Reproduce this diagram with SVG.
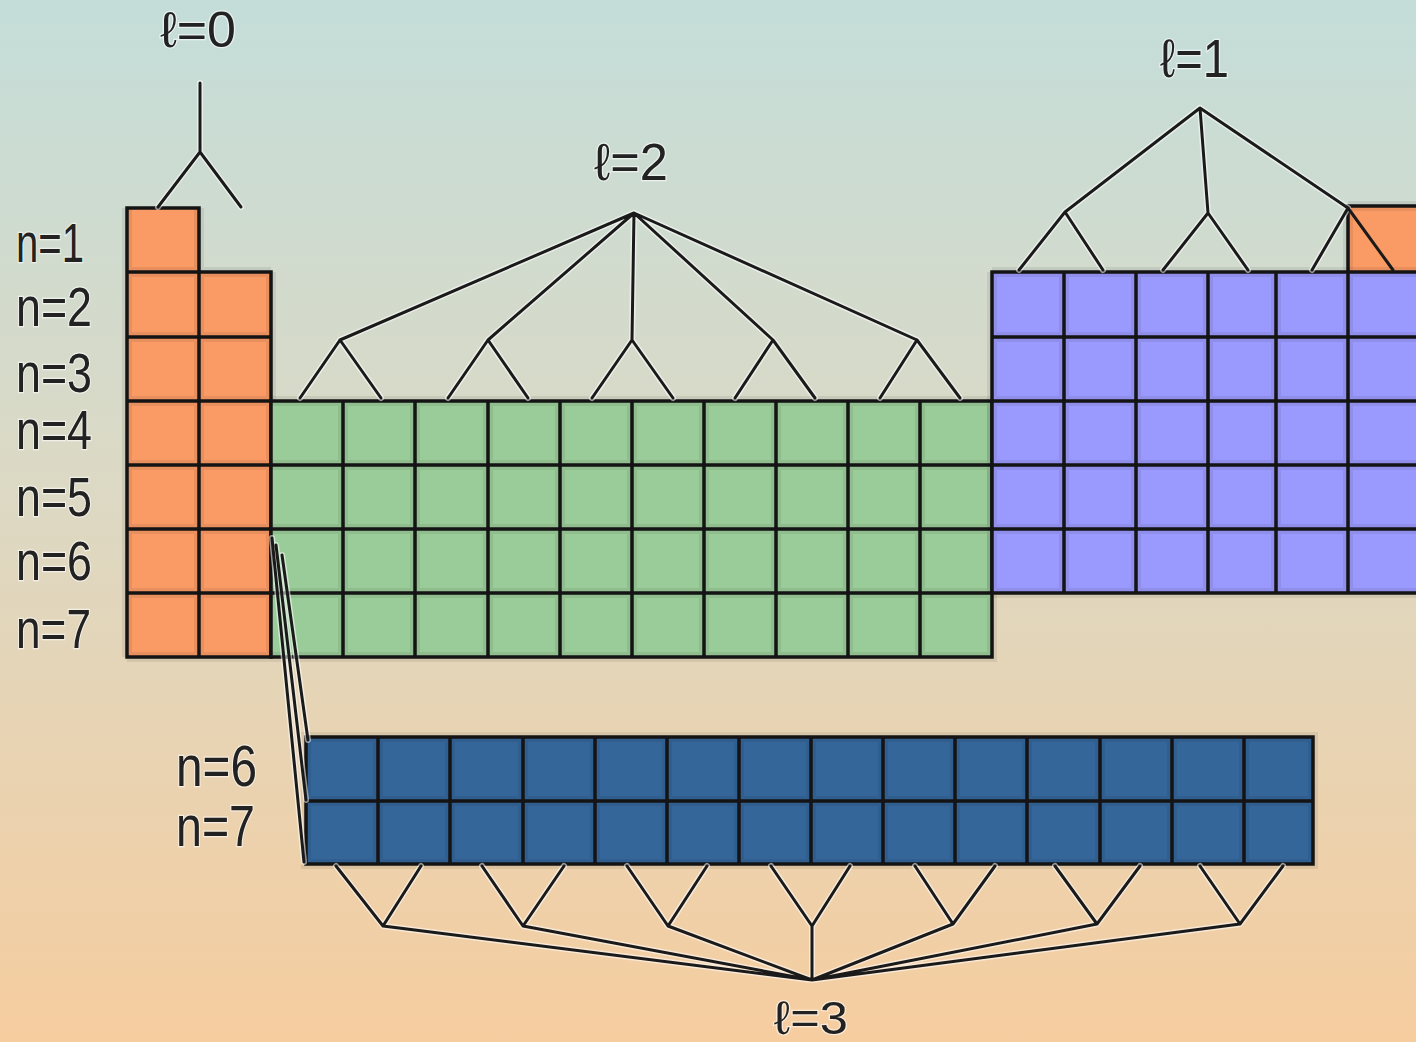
<svg xmlns="http://www.w3.org/2000/svg" width="1416" height="1042" viewBox="0 0 1416 1042">
<defs>
<linearGradient id="bg" x1="0" y1="0" x2="0" y2="1">
<stop offset="0" stop-color="#c4ddd9"/>
<stop offset="0.45" stop-color="#dbd9c5"/>
<stop offset="1" stop-color="#f6cd9f"/>
</linearGradient>
<style>
.band{fill:none;stroke:#000;stroke-opacity:0.07;stroke-width:10}
.grid{fill:none;stroke:#141414;stroke-width:3.5;stroke-linejoin:miter}
.halo{fill:none;stroke:#fff;stroke-opacity:0.55;stroke-width:6;stroke-linecap:round;stroke-linejoin:round}
.ln{fill:none;stroke:#1a1a1a;stroke-width:3;stroke-linecap:round;stroke-linejoin:round}
.s{fill:#fa9a65}
.p{fill:#9a99fd}
.d{fill:#9acc99}
.f{fill:#346699}
.lbl{font-family:"Liberation Sans","DejaVu Sans",sans-serif;fill:#222;stroke:#fff;stroke-opacity:0.6;stroke-width:2.5;paint-order:stroke}
</style>
</defs>
<rect x="0" y="0" width="1416" height="1042" fill="url(#bg)"/>

<g id="s-block">
<path class="s" d="M127,208 H199 V272 H271 V657 H127 Z"/>
<path class="band" d="M127,272 H271 M127,337 H271 M127,401 H271 M127,465 H271 M127,529 H271 M127,593 H271 M199,208 V657 M127,208 V657 M271,272 V657 M127,657 H271"/>
<path class="grid" d="M127,272 H199 M127,337 H271 M127,401 H271 M127,465 H271 M127,529 H271 M127,593 H271 M199,272 V657"/>
<path class="grid" d="M127,208 H199 V272 H271 V657 H127 Z"/>
</g>

<g id="s-block-he">
<rect class="s" x="1348" y="206" width="80" height="66"/>
<path class="band" d="M1348,206 V272 M1348,206 H1420"/>
<path class="grid" d="M1420,206 H1348 V272"/>
</g>

<g id="d-block">
<rect class="d" x="271" y="401" width="721" height="256"/>
<path class="band" d="M343,401V657 M415,401V657 M488,401V657 M560,401V657 M632,401V657 M704,401V657 M776,401V657 M848,401V657 M920,401V657 M271,465H992 M271,529H992 M271,593H992 M271,401H992V657H271"/>
<path class="grid" d="M343,401V657 M415,401V657 M488,401V657 M560,401V657 M632,401V657 M704,401V657 M776,401V657 M848,401V657 M920,401V657 M271,465H992 M271,529H992 M271,593H992"/>
<rect class="grid" x="271" y="401" width="721" height="256"/>
</g>

<g id="p-block">
<rect class="p" x="992" y="272" width="440" height="321"/>
<path class="band" d="M1064,272V593 M1136,272V593 M1208,272V593 M1276,272V593 M1348,272V593 M992,337H1420 M992,401H1420 M992,465H1420 M992,529H1420 M992,272V593 M992,272H1420 M992,593H1420"/>
<path class="grid" d="M1064,272V593 M1136,272V593 M1208,272V593 M1276,272V593 M1348,272V593 M992,337H1420 M992,401H1420 M992,465H1420 M992,529H1420"/>
<path class="grid" d="M1420,272 H992 V593 H1420"/>
</g>

<g id="f-block">
<rect class="f" x="306" y="737" width="1007" height="127"/>
<path class="band" d="M378,737V864 M450,737V864 M523,737V864 M595,737V864 M667,737V864 M739,737V864 M811,737V864 M883,737V864 M955,737V864 M1027,737V864 M1100,737V864 M1172,737V864 M1244,737V864 M306,801H1313 M306,737H1313V864H306Z"/>
<path class="grid" d="M378,737V864 M450,737V864 M523,737V864 M595,737V864 M667,737V864 M739,737V864 M811,737V864 M883,737V864 M955,737V864 M1027,737V864 M1100,737V864 M1172,737V864 M1244,737V864 M306,801H1313"/>
<rect class="grid" x="306" y="737" width="1007" height="127"/>
</g>

<g id="connectors">
<g id="tree-l0">
<path class="halo" d="M200,83 V152 M200,152 L158,207 M200,152 L241,207"/>
<path class="ln" d="M200,83 V152 M200,152 L158,207 M200,152 L241,207"/>
</g>
<g id="tree-l2">
<path class="halo" d="M634,213 L340,340 M634,213 L488,340 M634,213 L632,340 M634,213 L773,340 M634,213 L917,340 M340,340 L300,398 M340,340 L381,398 M488,340 L448,398 M488,340 L528,398 M632,340 L592,398 M632,340 L673,398 M773,340 L735,398 M773,340 L815,398 M917,340 L880,398 M917,340 L960,398"/>
<path class="ln" d="M634,213 L340,340 M634,213 L488,340 M634,213 L632,340 M634,213 L773,340 M634,213 L917,340 M340,340 L300,398 M340,340 L381,398 M488,340 L448,398 M488,340 L528,398 M632,340 L592,398 M632,340 L673,398 M773,340 L735,398 M773,340 L815,398 M917,340 L880,398 M917,340 L960,398"/>
</g>
<g id="tree-l1">
<path class="halo" d="M1200,108 L1065,212 M1200,108 L1208,213 M1200,108 L1348,208 M1065,212 L1019,270 M1065,212 L1103,270 M1208,213 L1163,270 M1208,213 L1248,270 M1348,208 L1312,270"/>
<path class="ln" d="M1200,108 L1065,212 M1200,108 L1208,213 M1200,108 L1348,208 M1065,212 L1019,270 M1065,212 L1103,270 M1208,213 L1163,270 M1208,213 L1248,270 M1348,208 L1312,270 M1348,208 L1393,270"/>
</g>
<g id="tree-l3">
<path class="halo" d="M812,980 V926 M383,926 L812,980 M523,926 L812,980 M668,926 L812,980 M953,924 L812,980 M1097,924 L812,980 M1240,924 L812,980 M336,866 L383,926 L421,866 M482,866 L523,926 L564,866 M627,866 L668,926 L707,866 M771,866 L812,926 L850,866 M915,866 L953,924 L995,866 M1055,866 L1097,924 L1140,866 M1200,866 L1240,924 L1283,866"/>
<path class="ln" d="M812,980 V926 M383,926 L812,980 M523,926 L812,980 M668,926 L812,980 M953,924 L812,980 M1097,924 L812,980 M1240,924 L812,980 M336,866 L383,926 L421,866 M482,866 L523,926 L564,866 M627,866 L668,926 L707,866 M771,866 L812,926 L850,866 M915,866 L953,924 L995,866 M1055,866 L1097,924 L1140,866 M1200,866 L1240,924 L1283,866"/>
</g>
<g id="f-insert">
<path class="halo" d="M272,538 L304,862 M276,545 L306,800 M282,555 L308,740"/>
<path class="ln" d="M272,538 L304,862 M276,545 L306,800 M282,555 L308,740"/>
</g>
</g>

<g id="labels-l">
<text class="lbl" x="160" y="47" font-size="50" textLength="76" lengthAdjust="spacingAndGlyphs">ℓ=0</text>
<text class="lbl" x="594" y="180" font-size="52" textLength="74" lengthAdjust="spacingAndGlyphs">ℓ=2</text>
<text class="lbl" x="1160" y="77" font-size="54" textLength="69" lengthAdjust="spacingAndGlyphs">ℓ=1</text>
<text class="lbl" x="774" y="1034" font-size="47" textLength="74" lengthAdjust="spacingAndGlyphs">ℓ=3</text>
</g>

<g id="labels-n">
<text class="lbl" x="16" y="262" font-size="56" textLength="68" lengthAdjust="spacingAndGlyphs">n=1</text>
<text class="lbl" x="16" y="326" font-size="56" textLength="76" lengthAdjust="spacingAndGlyphs">n=2</text>
<text class="lbl" x="16" y="392" font-size="56" textLength="76" lengthAdjust="spacingAndGlyphs">n=3</text>
<text class="lbl" x="16" y="449" font-size="56" textLength="76" lengthAdjust="spacingAndGlyphs">n=4</text>
<text class="lbl" x="16" y="516" font-size="56" textLength="76" lengthAdjust="spacingAndGlyphs">n=5</text>
<text class="lbl" x="16" y="580" font-size="56" textLength="76" lengthAdjust="spacingAndGlyphs">n=6</text>
<text class="lbl" x="16" y="648" font-size="56" textLength="75" lengthAdjust="spacingAndGlyphs">n=7</text>
<text class="lbl" x="176" y="786" font-size="58" textLength="81" lengthAdjust="spacingAndGlyphs">n=6</text>
<text class="lbl" x="176" y="846" font-size="58" textLength="79" lengthAdjust="spacingAndGlyphs">n=7</text>
</g>
</svg>
